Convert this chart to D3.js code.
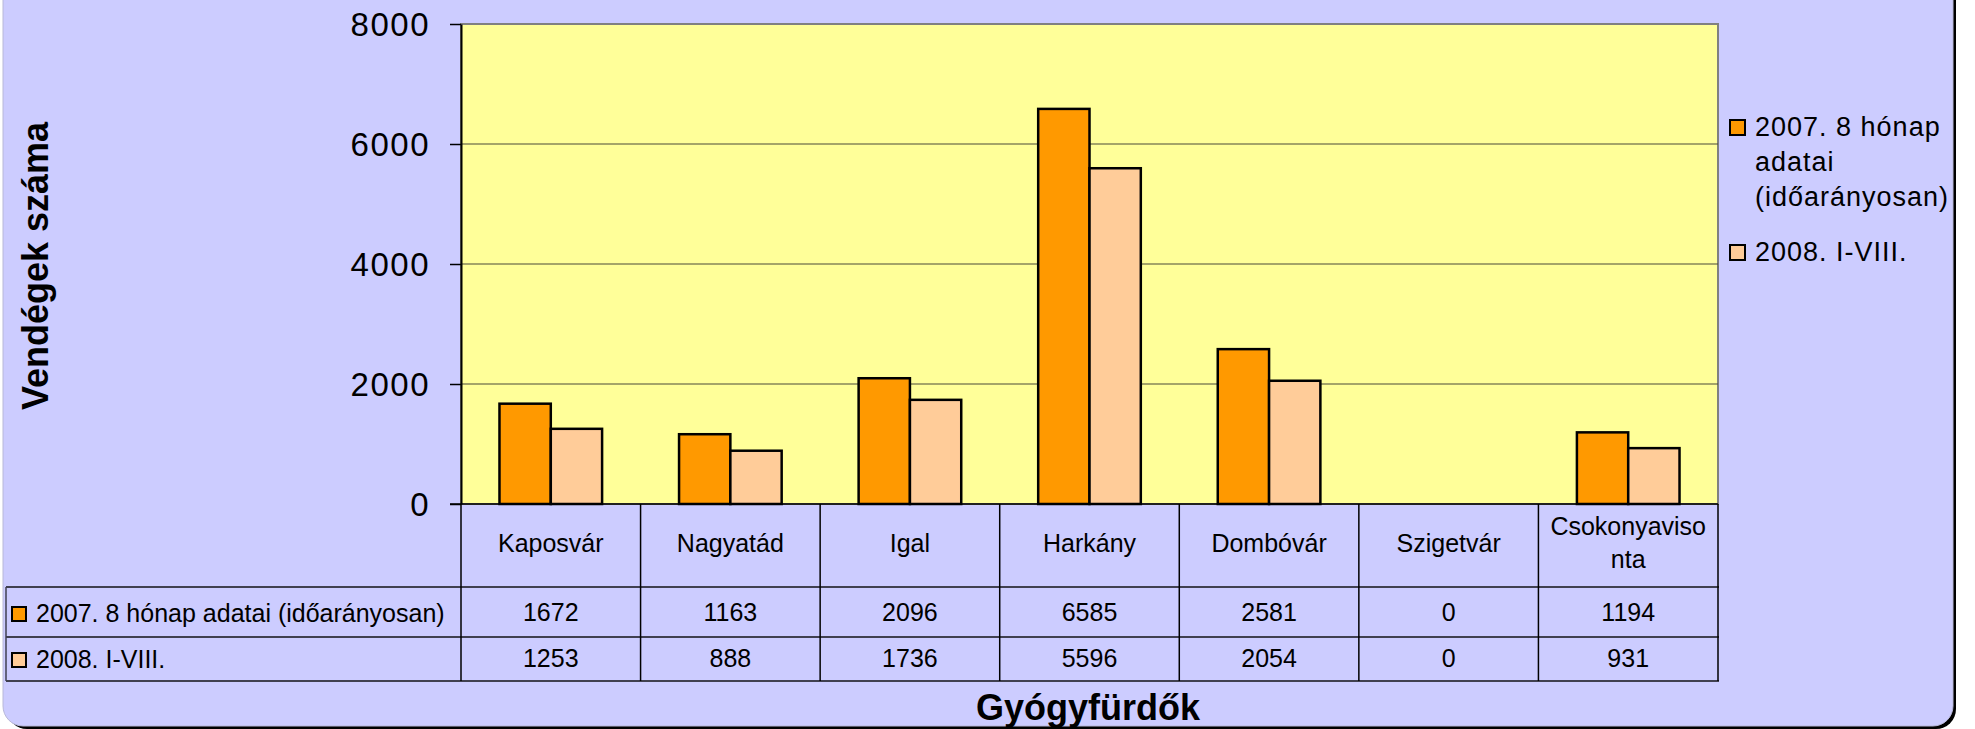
<!DOCTYPE html>
<html>
<head>
<meta charset="utf-8">
<script src="https://cdn.jsdelivr.net/npm/d3@7"></script>
<style>
  html, body { margin: 0; padding: 0; background: #ffffff; }
  svg { display: block; font-family: "Liberation Sans", Arial, sans-serif; }
</style>
</head>
<body>
<svg id="chart" width="1975" height="729"></svg>
<script>
// ---- data ----
const categories = ["Kaposvár", "Nagyatád", "Igal", "Harkány", "Dombóvár", "Szigetvár", "Csokonyavisonta"];
const categoryLines = [["Kaposvár"], ["Nagyatád"], ["Igal"], ["Harkány"], ["Dombóvár"], ["Szigetvár"], ["Csokonyaviso", "nta"]];
const seriesNames = ["2007. 8 hónap adatai (időarányosan)", "2008. I-VIII."];
const legendLines = [["2007. 8 hónap", "adatai", "(időarányosan)"], ["2008. I-VIII."]];
const values2007 = [1672, 1163, 2096, 6585, 2581, 0, 1194];
const values2008 = [1253, 888, 1736, 5596, 2054, 0, 931];
const yTicks = [0, 2000, 4000, 6000, 8000];
const yTitle = "Vendégek száma";
const xTitle = "Gyógyfürdők";
const colors = ["#FF9900", "#FFCC99"];

const seriesValues = [values2007, values2008];

// ---- layout ----
const svg = d3.select("#chart");
const plot = { left: 461, right: 1718, top: 24, bottom: 504 };
const table = { left: 6, header: 587, row1: 637, row2: 681 };

// background frame
svg.append("rect").attr("x", 7).attr("y", -30).attr("width", 1949).attr("height", 759)
  .attr("rx", 20).attr("fill", "#000");
svg.append("rect").attr("x", 3).attr("y", -34).attr("width", 1950).attr("height", 760)
  .attr("rx", 20).attr("fill", "#CCCCFF").attr("stroke", "#b8b8d8").attr("stroke-width", 1);

const x = d3.scaleBand().domain(categories).range([plot.left, plot.right]).paddingInner(0).paddingOuter(0);
const x1 = d3.scaleBand().domain(d3.range(seriesNames.length)).range([0, x.bandwidth()])
  .paddingInner(0).paddingOuter(0.75);
const y = d3.scaleLinear().domain([0, 8000]).range([plot.bottom, plot.top]);

// plot area
svg.append("rect").attr("x", plot.left).attr("y", plot.top)
  .attr("width", plot.right - plot.left).attr("height", plot.bottom - plot.top)
  .attr("fill", "#FFFF99").attr("stroke", "#808080").attr("stroke-width", 2);

// gridlines
svg.append("g").selectAll("line").data(yTicks.filter(d => d > 0 && d < 8000)).join("line")
  .attr("x1", plot.left).attr("x2", plot.right)
  .attr("y1", d => y(d)).attr("y2", d => y(d))
  .attr("stroke", "#4a4a3a").attr("stroke-width", 1.2);

// bars
const groups = svg.append("g").selectAll("g").data(categories).join("g")
  .attr("transform", d => `translate(${x(d)},0)`);
groups.selectAll("rect").data((c, i) => seriesValues.map((s, k) => ({ k, v: s[i] }))).join("rect")
  .attr("x", d => x1(d.k)).attr("width", x1.bandwidth())
  .attr("y", d => y(d.v)).attr("height", d => y(0) - y(d.v))
  .attr("fill", d => colors[d.k]).attr("stroke", "#000").attr("stroke-width", 2.5);

// y axis
const yAxis = d3.axisLeft(y).tickValues(yTicks).tickFormat(d3.format("d"))
  .tickSizeInner(11).tickSizeOuter(0).tickPadding(20);
const ya = svg.append("g").attr("transform", `translate(${plot.left},0)`).call(yAxis);
ya.select(".domain").attr("stroke", "#000").attr("stroke-width", 2);
ya.selectAll(".tick line").attr("stroke", "#000").attr("stroke-width", 1.5);
ya.selectAll(".tick text").attr("font-size", 33).attr("letter-spacing", 1.5)
  .attr("fill", "#000").attr("font-family", "Liberation Sans, Arial, sans-serif").attr("dy", "0.36em");

// x axis baseline
svg.append("line").attr("x1", 450).attr("x2", plot.right).attr("y1", plot.bottom).attr("y2", plot.bottom)
  .attr("stroke", "#000").attr("stroke-width", 1.5);

// data table lines
const tg = svg.append("g");
[table.header, table.row1, table.row2].forEach(yy => {
  tg.append("line").attr("x1", table.left).attr("x2", plot.right + 1).attr("y1", yy).attr("y2", yy)
    .attr("stroke", "#404050").attr("stroke-width", 2);
});
tg.append("line").attr("x1", table.left).attr("x2", table.left).attr("y1", table.header).attr("y2", table.row2)
  .attr("stroke", "#404050").attr("stroke-width", 1.5);
const bounds = categories.map(c => x(c)).concat([plot.right]);
tg.selectAll("line.v").data(bounds).join("line").attr("class", "v")
  .attr("x1", d => d).attr("x2", d => d).attr("y1", plot.bottom).attr("y2", table.row2)
  .attr("stroke", "#000").attr("stroke-width", 1.5);

// header labels
const hdr = svg.append("g").attr("font-size", 25).attr("text-anchor", "middle").attr("fill", "#000");
categories.forEach((c, i) => {
  const lines = categoryLines[i];
  const cx = x(c) + x.bandwidth() / 2;
  const startY = lines.length === 1 ? 552 : 535;
  lines.forEach((l, j) => {
    hdr.append("text").attr("x", cx).attr("y", startY + j * 33).text(l);
  });
});

// values rows
const rowBase = [621, 667];
seriesValues.forEach((s, k) => {
  svg.append("g").attr("font-size", 25).attr("text-anchor", "middle")
    .selectAll("text").data(s).join("text")
    .attr("x", (d, i) => x(categories[i]) + x.bandwidth() / 2)
    .attr("y", rowBase[k]).text(d => d);
  // row label with key
  svg.append("rect").attr("x", 12).attr("y", rowBase[k] - 14).attr("width", 14).attr("height", 14)
    .attr("fill", colors[k]).attr("stroke", "#000").attr("stroke-width", 2);
  svg.append("text").attr("x", 36).attr("y", rowBase[k] + 1).attr("font-size", 25).text(seriesNames[k]);
});

// right legend
const legTop = [136, 261];
legendLines.forEach((lines, k) => {
  svg.append("rect").attr("x", 1730).attr("y", legTop[k] - 16).attr("width", 15).attr("height", 15)
    .attr("fill", colors[k]).attr("stroke", "#000").attr("stroke-width", 2);
  lines.forEach((l, j) => {
    svg.append("text").attr("x", 1755).attr("y", legTop[k] + j * 35)
      .attr("font-size", 27).attr("letter-spacing", 1).text(l);
  });
});

// axis titles
svg.append("text").attr("transform", "translate(48,266) rotate(-90)")
  .attr("text-anchor", "middle").attr("font-size", 36).attr("font-weight", "bold").text(yTitle);
svg.append("text").attr("x", 1088).attr("y", 720)
  .attr("text-anchor", "middle").attr("font-size", 36).attr("font-weight", "bold").text(xTitle);
</script>
</body>
</html>
